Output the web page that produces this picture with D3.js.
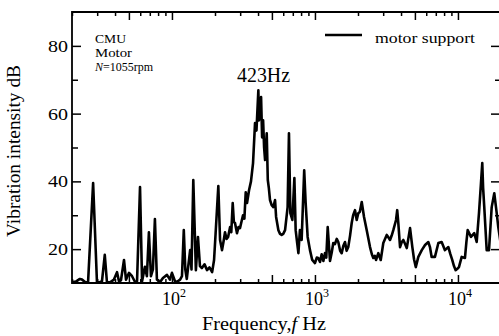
<!DOCTYPE html>
<html>
<head>
<meta charset="utf-8">
<script src="https://cdn.jsdelivr.net/npm/d3@7"></script>
<style>
body { margin: 0; background: #fff; }
svg { display: block; }
text { font-family: "Liberation Serif", "Times New Roman", serif; fill: #000; }
</style>
</head>
<body>
<div id="chart"></div>
<script>
// spectrum (Hz, dB)
const freqHz = [
  20, 21.3, 22.7, 23.5, 24.7, 25.9, 28.1, 29.9, 31.4, 32.4,
  33.9, 35.1, 36.9, 39.3, 41.3, 42.6, 44.0, 46.2, 47.7, 50.1,
  52.6, 55.2, 57.0, 59.8, 61.8, 64.7, 66.8, 69.0, 71.3, 73.6,
  76.0, 78.5, 82.4, 86.5, 92.3, 96.8, 100, 105, 108, 114,
  117.5, 121, 124, 127, 134, 137, 141, 147, 152, 157,
  162, 169, 176, 183, 191, 197, 202, 211, 217, 224,
  229, 235, 241, 247, 255, 260, 266, 271, 276, 285,
  292, 299, 306, 314, 321, 328, 335, 346, 357, 369,
  381, 390, 402, 406, 413, 420, 427, 434, 441, 448,
  460, 468, 476, 485, 498, 512, 526, 535, 555, 570,
  585, 600, 618, 644, 658, 673, 695, 718, 733, 750,
  766, 785, 807, 841, 861, 889, 923, 957, 1000, 1030,
  1054, 1085, 1114, 1145, 1175, 1200, 1228, 1274, 1310, 1343,
  1380, 1420, 1456, 1500, 1538, 1580, 1622, 1665, 1710, 1760,
  1807, 1850, 1906, 1959, 2010, 2060, 2124, 2204, 2302, 2427,
  2500, 2559, 2620, 2673, 2774, 2884, 3006, 3090, 3177, 3260,
  3350, 3440, 3532, 3690, 3760, 3828, 3936, 4040, 4150, 4270,
  4386, 4624, 4798, 4930, 5070, 5284, 5586, 5888, 6210, 6380,
  6546, 6902, 7296, 7692, 8110, 8570, 8850, 9120, 9380, 9638,
  9900, 10160, 10618, 11196, 11450, 11696, 12332, 13002, 13522, 14030,
  14488, 14792, 15000, 15276, 15886, 16482, 17218, 17948, 18666, 19144,
  20000
];
const levelDb = [
  10.3, 10.4, 11.2, 11.0, 10.3, 10.2, 39.5, 10.2, 10.3, 10.5,
  18.3, 10.3, 10.2, 11.0, 13.2, 10.5, 10.8, 16.8, 11.0, 13.0,
  12.0, 10.3, 10.5, 38.3, 10.5, 14.8, 12.0, 25.0, 12.0, 14.0,
  28.9, 11.0, 10.2, 11.5, 12.4, 11.0, 13.0, 10.5, 10.3, 11.0,
  12.0, 25.6, 14.0, 11.2, 19.7, 14.0, 40.4, 13.8, 23.6, 15.0,
  14.4, 15.5, 13.8, 14.6, 13.2, 16.8, 24.7, 38.6, 22.7, 19.7,
  22.0, 25.0, 23.0, 23.6, 26.5, 25.0, 33.6, 28.0, 27.7, 24.7,
  26.5, 26.2, 28.0, 30.0, 29.0, 36.8, 33.6, 37.4, 40.0, 45.4,
  57.2, 55.0, 66.9, 58.0, 61.0, 64.9, 53.0, 58.0, 50.0, 46.3,
  54.2, 40.4, 38.0, 34.5, 33.0, 32.4, 34.5, 29.5, 25.6, 24.5,
  24.2, 24.5, 25.6, 32.4, 54.2, 30.6, 28.6, 41.0, 25.6, 22.0,
  18.8, 25.6, 22.7, 43.3, 33.6, 23.6, 19.7, 16.8, 15.9, 17.5,
  17.4, 16.2, 18.5, 16.5, 18.8, 17.5, 26.5, 16.5, 19.0, 21.8,
  21.5, 23.0, 22.1, 19.5, 18.8, 21.0, 22.1, 19.5, 20.6, 24.0,
  27.7, 30.0, 31.5, 28.6, 30.6, 31.0, 33.9, 29.5, 25.6, 20.6,
  18.5, 17.4, 18.0, 16.8, 18.8, 16.8, 21.8, 23.0, 24.2, 23.5,
  22.7, 24.0, 25.6, 28.6, 31.5, 27.7, 20.6, 22.0, 22.7, 21.5,
  20.3, 26.2, 20.6, 17.0, 14.7, 17.7, 19.7, 21.2, 22.1, 20.5,
  17.7, 17.7, 21.8, 22.1, 19.7, 20.6, 18.5, 16.8, 15.0, 13.8,
  14.2, 14.7, 17.7, 17.4, 22.0, 25.6, 23.6, 24.7, 22.1, 30.6,
  39.5, 45.4, 38.0, 32.4, 19.7, 19.7, 32.4, 36.5, 30.6, 26.5,
  21.0
];

const yLabelTicks = [20, 40, 60, 80];
const yMinorTicks = [30, 50, 70];
const xLabelPowers = [2, 3, 4];
const seriesName = "motor support";
const noteLines = ["CMU", "Motor", "=1055rpm"];
const peakNote = "423Hz";

const width = 499, height = 336;
const plotL = 72, plotR = 501, plotT = 12, plotB = 283;

const svg = d3.select("#chart").append("svg")
  .attr("width", width)
  .attr("height", height);

const x = d3.scaleLog().domain([20, 20000]).range([plotL, plotR]);
const y = d3.scaleLinear().domain([10, 90]).range([plotB, plotT]);

function isMajor(v) {
  const m = v / Math.pow(10, Math.floor(Math.log10(v) + 1e-9));
  return Math.abs(m - 1) < 1e-6 || Math.abs(m - 5) < 1e-6;
}
const xAll = x.ticks();
const xMajor = xAll.filter(isMajor);
const xMinor = xAll.filter(v => !isMajor(v));

function styleAxis(g) {
  g.select(".domain").remove();
  g.selectAll(".tick line").attr("stroke", "#000").attr("stroke-width", 1.5);
}

// bottom + top axes, ticks pointing inward
svg.append("g").attr("transform", `translate(0,${plotB})`)
  .call(d3.axisBottom(x).tickValues(xMinor).tickSize(-4).tickFormat(""))
  .call(styleAxis);
svg.append("g").attr("transform", `translate(0,${plotB})`)
  .call(d3.axisBottom(x).tickValues(xMajor).tickSize(-8).tickFormat(""))
  .call(styleAxis);
svg.append("g").attr("transform", `translate(0,${plotT})`)
  .call(d3.axisTop(x).tickValues(xMinor).tickSize(-4).tickFormat(""))
  .call(styleAxis);
svg.append("g").attr("transform", `translate(0,${plotT})`)
  .call(d3.axisTop(x).tickValues(xMajor).tickSize(-8).tickFormat(""))
  .call(styleAxis);

// left + right axes
const yl = svg.append("g").attr("transform", `translate(${plotL},0)`)
  .call(d3.axisLeft(y).tickValues(yLabelTicks).tickSize(-9).tickPadding(4).tickFormat(d3.format("d")))
  .call(styleAxis);
yl.selectAll(".tick text")
  .attr("font-size", 17)
  .attr("textLength", 20)
  .attr("lengthAdjust", "spacingAndGlyphs");
svg.append("g").attr("transform", `translate(${plotL},0)`)
  .call(d3.axisLeft(y).tickValues(yMinorTicks).tickSize(-6).tickFormat(""))
  .call(styleAxis);
svg.append("g").attr("transform", `translate(${plotR},0)`)
  .call(d3.axisRight(y).tickValues(yLabelTicks).tickSize(-10).tickFormat(""))
  .call(styleAxis);
svg.append("g").attr("transform", `translate(${plotR},0)`)
  .call(d3.axisRight(y).tickValues(yMinorTicks).tickSize(-6).tickFormat(""))
  .call(styleAxis);

// x labels 10^n
const xl = svg.append("g").selectAll("text")
  .data(xLabelPowers)
  .enter().append("text")
  .attr("x", d => x(Math.pow(10, d)) - 10)
  .attr("y", 305)
  .attr("font-size", 18);
xl.append("tspan").text("10");
xl.append("tspan").attr("font-size", 12).attr("dy", -8).text(d => d);

// frame
svg.append("path")
  .attr("d", `M${plotL},${plotB}V${plotT}H${plotR}V${plotB}Z`)
  .attr("fill", "none")
  .attr("stroke", "#000")
  .attr("stroke-width", 1.8);

// data line
svg.append("clipPath").attr("id", "plot")
  .append("rect").attr("x", plotL).attr("y", plotT)
  .attr("width", plotR - plotL).attr("height", plotB - plotT);

const pts = freqHz.map((f, i) => [f, levelDb[i]]);
const line = d3.line()
  .x(d => x(d[0]))
  .y(d => y(Math.max(d[1], 10)));

svg.append("path")
  .datum(pts)
  .attr("clip-path", "url(#plot)")
  .attr("d", line)
  .attr("fill", "none")
  .attr("stroke", "#000")
  .attr("stroke-width", 2.6)
  .attr("stroke-linejoin", "round");

// annotations
svg.append("text").attr("x", 95).attr("y", 43).attr("font-size", 12.5)
  .attr("textLength", 31).attr("lengthAdjust", "spacingAndGlyphs").text(noteLines[0]);
svg.append("text").attr("x", 95).attr("y", 56.5).attr("font-size", 12.5)
  .attr("textLength", 37).attr("lengthAdjust", "spacingAndGlyphs").text(noteLines[1]);
const nt = svg.append("text").attr("x", 95).attr("y", 70.5).attr("font-size", 12);
nt.append("tspan").attr("font-style", "italic").text("N");
nt.append("tspan").text(noteLines[2]);

svg.append("text").attr("x", 237).attr("y", 82).attr("font-size", 20)
  .attr("textLength", 53).attr("lengthAdjust", "spacingAndGlyphs").text(peakNote);

// legend
svg.append("line")
  .attr("x1", 325).attr("x2", 362).attr("y1", 35).attr("y2", 35)
  .attr("stroke", "#000").attr("stroke-width", 2.5);
svg.append("text").attr("x", 375).attr("y", 42.5).attr("font-size", 14)
  .attr("textLength", 100).attr("lengthAdjust", "spacingAndGlyphs").text(seriesName);

// axis titles
svg.append("text")
  .attr("transform", "translate(20,151) rotate(-90)")
  .attr("text-anchor", "middle")
  .attr("font-size", 18)
  .attr("textLength", 172).attr("lengthAdjust", "spacingAndGlyphs")
  .text("Vibration intensity  dB");

const xt = svg.append("text")
  .attr("x", 264).attr("y", 330)
  .attr("text-anchor", "middle")
  .attr("font-size", 18)
  .attr("textLength", 124).attr("lengthAdjust", "spacingAndGlyphs");
xt.append("tspan").text("Frequency,");
xt.append("tspan").attr("font-style", "italic").text("f");
xt.append("tspan").text(" Hz");
</script>
</body>
</html>
